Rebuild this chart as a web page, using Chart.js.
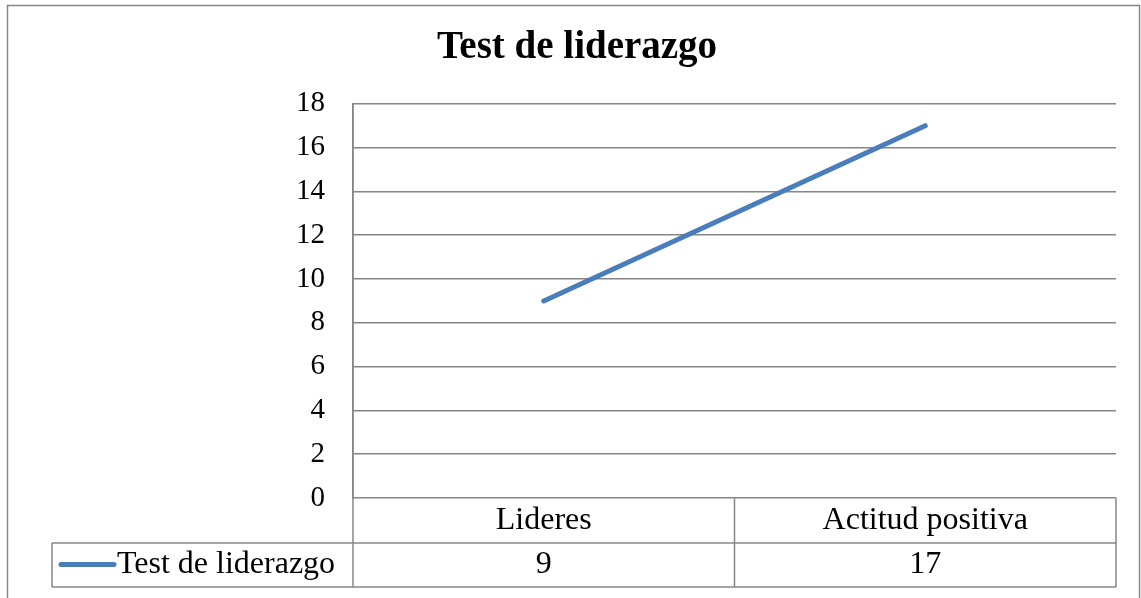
<!DOCTYPE html>
<html>
<head>
<meta charset="utf-8">
<script src="https://cdn.jsdelivr.net/npm/chart.js@4/dist/chart.umd.min.js"></script>
<style>
  html, body { margin: 0; padding: 0; background: #ffffff; }
  #wrap { position: relative; width: 1141px; height: 598px; }
</style>
</head>
<body>
<div id="wrap"><canvas id="c" width="1141" height="598"></canvas></div>
<script>
const categories = ['Lideres', 'Actitud positiva'];
const seriesName = 'Test de liderazgo';
const seriesValues = [9, 17];
const chartTitle = 'Test de liderazgo';
const yMin = 0, yMax = 18, yStep = 2;

const SERIF = '"Liberation Serif", "Times New Roman", serif';
const GRID = '#868686';
const LINE = '#4a7ebb';

const tablePlugin = {
  id: 'dataTable',
  beforeDraw(chart) {
    const ctx = chart.ctx;
    ctx.save();
    ctx.strokeStyle = GRID;
    ctx.lineWidth = 1.5;
    ctx.strokeRect(7.5, 5.5, 1132, 620);
    ctx.restore();
  },
  afterDraw(chart) {
    const ctx = chart.ctx;
    const area = chart.chartArea;
    const x = chart.scales.x;
    const r1 = area.bottom + 45;
    const r2 = r1 + 44;
    const legendLeft = 52;
    ctx.save();
    ctx.strokeStyle = GRID;
    ctx.lineWidth = 1.5;
    const hl = (x1, x2, y) => { ctx.beginPath(); ctx.moveTo(x1, y); ctx.lineTo(x2, y); ctx.stroke(); };
    const vl = (xx, y1, y2) => { ctx.beginPath(); ctx.moveTo(xx, y1); ctx.lineTo(xx, y2); ctx.stroke(); };
    hl(legendLeft, area.right, r1);
    hl(legendLeft, area.right, r2);
    vl(legendLeft, r1, r2);
    vl(area.left, area.top, r2);
    const n = categories.length;
    for (let i = 1; i < n; i++) {
      const px = (x.getPixelForValue(i - 1) + x.getPixelForValue(i)) / 2;
      vl(px, area.bottom, r2);
    }
    vl(area.right, area.bottom, r2);

    ctx.fillStyle = '#000';
    ctx.font = '32px ' + SERIF;
    ctx.textAlign = 'center';
    ctx.textBaseline = 'middle';
    categories.forEach((c, i) => {
      const px = x.getPixelForValue(i);
      ctx.fillText(c, px, (area.bottom + r1) / 2);
      ctx.fillText(String(seriesValues[i]), px, (r1 + r2) / 2);
    });
    // legend key
    const ly = (r1 + r2) / 2 - 0.5;
    ctx.strokeStyle = LINE;
    ctx.lineWidth = 5;
    ctx.lineCap = 'round';
    hl(61, 114, ly);
    ctx.textAlign = 'left';
    ctx.fillText(seriesName, 117, (r1 + r2) / 2);
    ctx.restore();
  }
};

new Chart(document.getElementById('c'), {
  type: 'line',
  data: {
    labels: categories,
    datasets: [{
      label: seriesName,
      data: seriesValues,
      borderColor: LINE,
      backgroundColor: LINE,
      borderWidth: 5,
      borderCapStyle: 'round',
      pointRadius: 0,
      tension: 0
    }]
  },
  options: {
    responsive: false,
    animation: false,
    layout: { padding: { left: 38, right: 25, top: 0, bottom: 100 } },
    plugins: {
      legend: { display: false },
      tooltip: { enabled: false },
      title: {
        display: true,
        text: chartTitle,
        color: '#000',
        font: { family: SERIF, size: 39, weight: 'bold', lineHeight: 1.2 },
        padding: { top: 25, bottom: 32 }
      }
    },
    scales: {
      x: {
        type: 'category',
        offset: true,
        grid: { display: false, drawTicks: false },
        border: { display: false },
        ticks: { display: false }
      },
      y: {
        min: yMin, max: yMax,
        ticks: {
          stepSize: yStep,
          color: '#000',
          padding: 28,
          font: { family: SERIF, size: 29 }
        },
        grid: { color: GRID, lineWidth: 1.5, drawTicks: false },
        border: { display: true, color: GRID, width: 1.5 },
        afterFit(s) { s.width = 353 - 38; }
      }
    }
  },
  plugins: [tablePlugin]
});
</script>
</body>
</html>
